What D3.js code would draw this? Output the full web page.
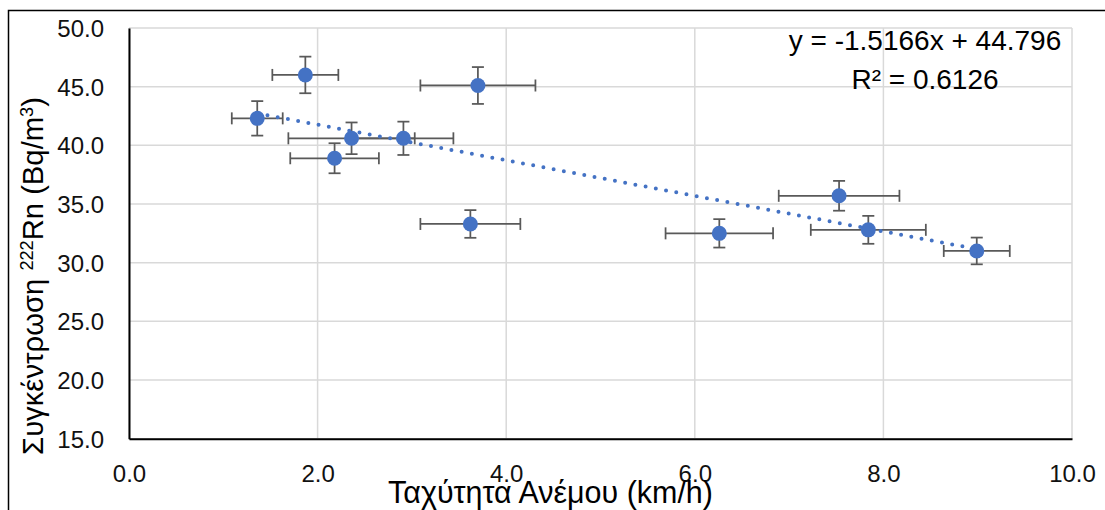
<!DOCTYPE html>
<html>
<head>
<meta charset="utf-8">
<script src="https://cdn.jsdelivr.net/npm/d3@7"></script>
<style>
  html, body { margin: 0; padding: 0; background: #fff; overflow: hidden; }
  svg { display: block; font-family: "Liberation Sans", Arial, sans-serif; }
</style>
</head>
<body>
<svg id="chart" width="1105" height="510"></svg>
<script>
// ---- data ----
const windSpeed = [1.36, 1.87, 2.18, 2.36, 2.91, 3.62, 3.70, 6.26, 7.53, 7.84, 8.99];
const radon     = [42.3, 46.0, 38.9, 40.6, 40.6, 33.3, 45.1, 32.5, 35.7, 32.8, 31.0];
const windErr   = [0.27, 0.35, 0.47, 0.67, 0.53, 0.53, 0.61, 0.57, 0.64, 0.61, 0.35];
const radonErr  = [1.47, 1.56, 1.28, 1.35, 1.42, 1.18, 1.57, 1.21, 1.27, 1.19, 1.14];
const xTicks = [0, 2, 4, 6, 8, 10];
const yTicks = [15, 20, 25, 30, 35, 40, 45, 50];
const trendSlope = -1.5166;
const trendIntercept = 44.796;
const equationText = "y = -1.5166x + 44.796";
const r2Text = "0.6126";
const xTitle = "Ταχύτητα Ανέμου (km/h)";

const points = windSpeed.map((x, i) => ({ x, y: radon[i], ex: windErr[i], ey: radonErr[i] }));

const svg = d3.select("#chart");
const L = 129, R = 1072, T = 28, B = 438.7;
const x = d3.scaleLinear().domain([0, 10]).range([L, R]);
const y = d3.scaleLinear().domain([15, 50]).range([B, T]);

// outer chart border
svg.append("rect").attr("x", 8.5).attr("y", 10.5).attr("width", 1200).attr("height", 600)
  .attr("fill", "none").attr("stroke", "#000").attr("stroke-width", 1.5);

// gridlines
const grid = svg.append("g");
grid.selectAll(".vg").data(xTicks).join("line")
  .attr("x1", d => x(d)).attr("x2", d => x(d)).attr("y1", T).attr("y2", B)
  .attr("stroke", "#d9d9d9").attr("stroke-width", 1.5);
grid.selectAll(".hg").data(yTicks).join("line")
  .attr("x1", L).attr("x2", R).attr("y1", d => y(d)).attr("y2", d => y(d))
  .attr("stroke", "#d9d9d9").attr("stroke-width", 1.5);

// axes
const xAxis = d3.axisBottom(x).tickValues(xTicks).tickFormat(d3.format(".1f")).tickSize(0).tickPadding(0);
const yAxis = d3.axisLeft(y).tickValues(yTicks).tickFormat(d3.format(".1f")).tickSize(0).tickPadding(0);

const gx = svg.append("g").attr("transform", `translate(0,${B})`).call(xAxis);
gx.select(".domain").attr("stroke", "#000").attr("stroke-width", 2);
gx.selectAll("text").attr("font-size", 24).attr("fill", "#111").attr("dy", null).attr("y", 43)
  .attr("font-family", "Liberation Sans, Arial, sans-serif");

const gy = svg.append("g").attr("transform", `translate(${L},0)`).call(yAxis);
gy.select(".domain").attr("stroke", "#000").attr("stroke-width", 2);
gy.selectAll("text").attr("font-size", 24).attr("fill", "#111").attr("x", -25).attr("dy", "0.36em")
  .attr("font-family", "Liberation Sans, Arial, sans-serif");

// error bars
const eb = svg.append("g").attr("stroke", "#595959").attr("stroke-width", 1.75).attr("fill", "none");
const cap = 6;
points.forEach(p => {
  eb.append("line").attr("x1", x(p.x - p.ex)).attr("x2", x(p.x + p.ex)).attr("y1", y(p.y)).attr("y2", y(p.y));
  eb.append("line").attr("x1", x(p.x - p.ex)).attr("x2", x(p.x - p.ex)).attr("y1", y(p.y) - cap).attr("y2", y(p.y) + cap);
  eb.append("line").attr("x1", x(p.x + p.ex)).attr("x2", x(p.x + p.ex)).attr("y1", y(p.y) - cap).attr("y2", y(p.y) + cap);
  eb.append("line").attr("x1", x(p.x)).attr("x2", x(p.x)).attr("y1", y(p.y - p.ey)).attr("y2", y(p.y + p.ey));
  eb.append("line").attr("x1", x(p.x) - cap).attr("x2", x(p.x) + cap).attr("y1", y(p.y - p.ey)).attr("y2", y(p.y - p.ey));
  eb.append("line").attr("x1", x(p.x) - cap).attr("x2", x(p.x) + cap).attr("y1", y(p.y + p.ey)).attr("y2", y(p.y + p.ey));
});

// markers
svg.append("g").selectAll("circle").data(points).join("circle")
  .attr("cx", d => x(d.x)).attr("cy", d => y(d.y)).attr("r", 7.5).attr("fill", "#4472c4");

// trendline
const xmin = d3.min(windSpeed), xmax = d3.max(windSpeed);
svg.append("line")
  .attr("x1", x(xmin)).attr("y1", y(trendSlope * xmin + trendIntercept))
  .attr("x2", x(xmax)).attr("y2", y(trendSlope * xmax + trendIntercept))
  .attr("stroke", "#4472c4").attr("stroke-width", 4).attr("stroke-linecap", "round")
  .attr("stroke-dasharray", "0 10.4");

// equation
const eq = svg.append("g").attr("font-size", 28).attr("fill", "#000").attr("text-anchor", "middle");
eq.append("text").attr("x", 925).attr("y", 50).text(equationText);
const r2 = eq.append("text").attr("x", 925).attr("y", 89);
r2.append("tspan").text("R² = " + r2Text);

// x title
const xt = svg.append("text").attr("x", 550.5).attr("y", 503).attr("text-anchor", "middle")
  .attr("font-size", 29).attr("fill", "#000").text(xTitle);
{
  const len = xt.node().getComputedTextLength();
  xt.attr("font-size", 29 * 325 / len);
}

// y title
const yt = svg.append("text").attr("transform", "translate(43,276) rotate(-90)")
  .attr("text-anchor", "middle").attr("font-size", 29).attr("fill", "#000");
yt.append("tspan").text("Συγκέντρωση ");
yt.append("tspan").attr("font-size", "0.62em").attr("dy", "-0.55em").text("222");
yt.append("tspan").attr("dy", "0.34em").text("Rn (Bq/m");
yt.append("tspan").attr("font-size", "0.62em").attr("dy", "-0.55em").text("3");
yt.append("tspan").attr("dy", "0.34em").text(")");
{
  const len = yt.node().getComputedTextLength();
  yt.attr("font-size", 29 * 358 / len);
}
</script>
</body>
</html>
